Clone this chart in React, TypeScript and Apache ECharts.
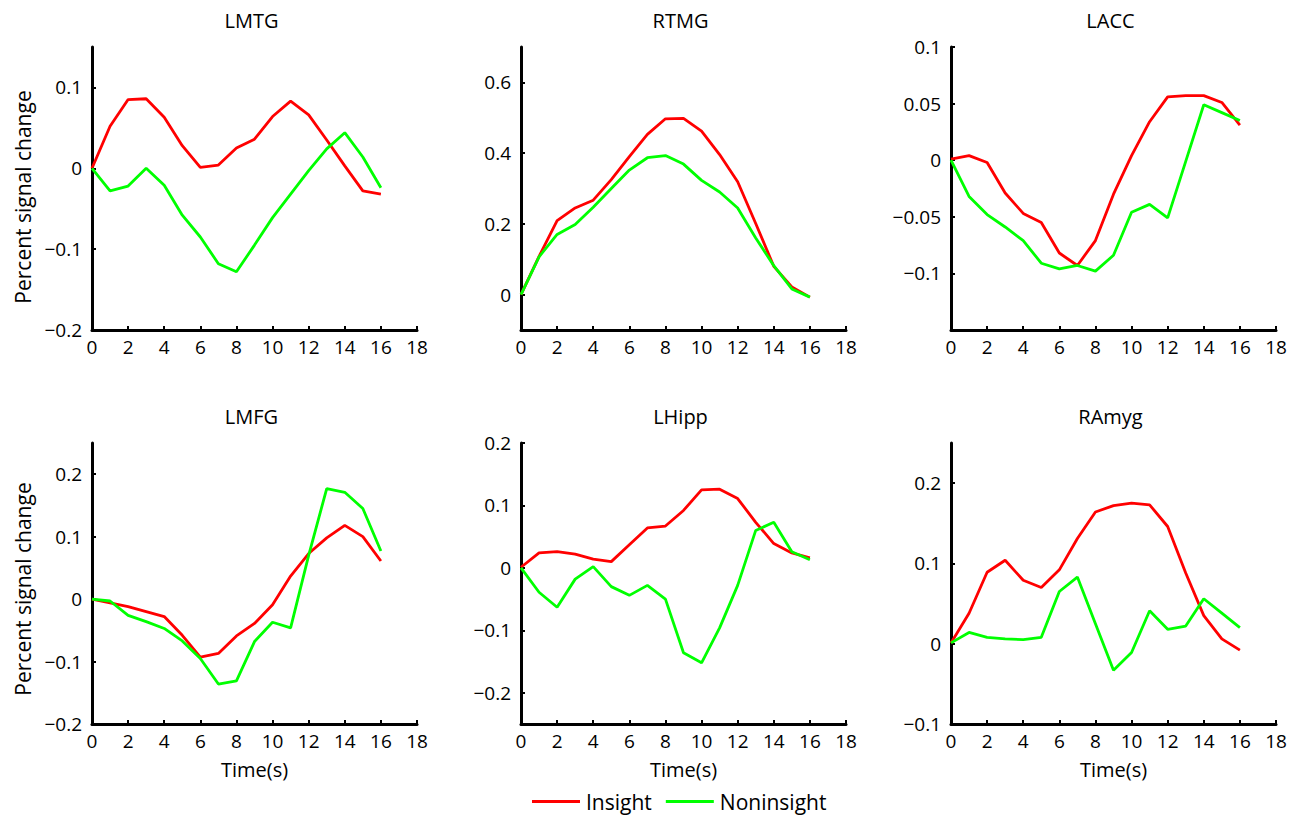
import React, { useEffect, useRef } from 'react';
import * as echarts from 'echarts';

const time = [0, 1, 2, 3, 4, 5, 6, 7, 8, 9, 10, 11, 12, 13, 14, 15, 16];
const xTickLabels = [0, 2, 4, 6, 8, 10, 12, 14, 16, 18];
const panelTitles = ['LMTG', 'RTMG', 'LACC', 'LMFG', 'LHipp', 'RAmyg'];

const lmtgInsight = [0, 0.052, 0.085, 0.086, 0.063, 0.028, 0.001, 0.004, 0.025, 0.036, 0.064, 0.083, 0.066, 0.035, 0.003, -0.028, -0.032];
const lmtgNoninsight = [0, -0.028, -0.022, 0, -0.021, -0.058, -0.085, -0.118, -0.128, -0.095, -0.061, -0.032, -0.003, 0.024, 0.044, 0.014, -0.024];

const rtmgInsight = [0, 0.108, 0.209, 0.245, 0.267, 0.325, 0.39, 0.453, 0.497, 0.498, 0.462, 0.396, 0.319, 0.201, 0.08, 0.022, -0.007];
const rtmgNoninsight = [0, 0.107, 0.17, 0.198, 0.247, 0.3, 0.352, 0.387, 0.393, 0.369, 0.323, 0.29, 0.245, 0.16, 0.082, 0.016, -0.007];

const laccInsight = [0.001, 0.004, -0.002, -0.029, -0.047, -0.055, -0.082, -0.093, -0.071, -0.03, 0.004, 0.034, 0.056, 0.057, 0.057, 0.051, 0.031];
const laccNoninsight = [0, -0.032, -0.048, -0.059, -0.071, -0.091, -0.096, -0.093, -0.098, -0.084, -0.046, -0.039, -0.051, -0.001, 0.049, 0.042, 0.035];

const lmfgInsight = [0, -0.006, -0.012, -0.02, -0.028, -0.058, -0.093, -0.087, -0.059, -0.039, -0.009, 0.037, 0.073, 0.098, 0.118, 0.1, 0.061];
const lmfgNoninsight = [0, -0.003, -0.026, -0.036, -0.047, -0.067, -0.095, -0.136, -0.131, -0.068, -0.037, -0.046, 0.07, 0.177, 0.171, 0.145, 0.077];

const lhippInsight = [0.001, 0.024, 0.026, 0.022, 0.014, 0.01, 0.037, 0.064, 0.067, 0.092, 0.125, 0.126, 0.111, 0.073, 0.039, 0.024, 0.016];
const lhippNoninsight = [0, -0.039, -0.063, -0.018, 0.002, -0.03, -0.044, -0.028, -0.05, -0.136, -0.152, -0.096, -0.028, 0.06, 0.073, 0.026, 0.013];

const ramygInsight = [0.001, 0.038, 0.089, 0.104, 0.079, 0.07, 0.092, 0.131, 0.164, 0.172, 0.175, 0.173, 0.146, 0.088, 0.035, 0.006, -0.008];
const ramygNoninsight = [0.001, 0.014, 0.008, 0.006, 0.005, 0.008, 0.065, 0.083, 0.025, -0.033, -0.011, 0.041, 0.018, 0.022, 0.056, 0.038, 0.02];

const insightData = [lmtgInsight, rtmgInsight, laccInsight, lmfgInsight, lhippInsight, ramygInsight];
const noninsightData = [lmtgNoninsight, rtmgNoninsight, laccNoninsight, lmfgNoninsight, lhippNoninsight, ramygNoninsight];

const yMins = [-0.2, -0.1, -0.15, -0.2, -0.25, -0.1];
const yMaxs = [0.15, 0.7, 0.1, 0.25, 0.2, 0.25];
const yTickLabels = [
  [-0.2, -0.1, 0, 0.1],
  [0, 0.2, 0.4, 0.6],
  [-0.1, -0.05, 0, 0.05, 0.1],
  [-0.2, -0.1, 0, 0.1, 0.2],
  [-0.2, -0.1, 0, 0.1, 0.2],
  [-0.1, 0, 0.1, 0.2],
];

const FONT = "'Open Sans', sans-serif";
const colLefts = [92, 521, 951];
const rowTops = [47, 443];
const rowHeights = [283, 281];
const gridWidth = 325;
const titleYs = [20.5, 416];
const yNameCenters = [197, 589];

const fmt = (v: number) => String(v).replace('-', '\u2212');

export default function App() {
  const ref = useRef<HTMLDivElement>(null);

  useEffect(() => {
    if (!ref.current) return;
    const chart = echarts.init(ref.current, undefined, { renderer: 'svg' });

    const grids: any[] = [];
    const xAxes: any[] = [];
    const yAxes: any[] = [];
    const series: any[] = [];
    const graphics: any[] = [];

    for (let i = 0; i < 6; i++) {
      const row = Math.floor(i / 3);
      const col = i % 3;
      grids.push({
        left: colLefts[col],
        top: rowTops[row],
        width: gridWidth,
        height: rowHeights[row],
        containLabel: false,
      });
      xAxes.push({
        type: 'value',
        gridIndex: i,
        min: 0,
        max: 18,
        interval: 2,
        name: row === 1 ? 'Time(s)' : '',
        nameLocation: 'middle',
        nameGap: 35,
        nameTextStyle: { fontFamily: FONT, fontSize: 20, color: '#000' },
        axisLine: { onZero: false, lineStyle: { color: '#000', width: 3 } },
        axisTick: { inside: true, length: 4, lineStyle: { color: '#000', width: 2 } },
        axisLabel: { customValues: xTickLabels, formatter: fmt, fontFamily: FONT, fontSize: 19, color: '#000', margin: 7 },
        splitLine: { show: false },
      });
      yAxes.push({
        type: 'value',
        gridIndex: i,
        min: yMins[i],
        max: yMaxs[i],
        axisLine: { show: true, onZero: false, lineStyle: { color: '#000', width: 3 } },
        axisTick: { show: true, inside: true, length: 4, customValues: yTickLabels[i], lineStyle: { color: '#000', width: 2 } },
        axisLabel: { customValues: yTickLabels[i], formatter: fmt, fontFamily: FONT, fontSize: 19, color: '#000', margin: 10 },
        splitLine: { show: false },
      });
      series.push({
        name: 'Insight',
        type: 'line',
        xAxisIndex: i,
        yAxisIndex: i,
        symbol: 'none',
        lineStyle: { color: '#ff0000', width: 2.8 },
        itemStyle: { color: '#ff0000' },
        data: time.map((t, k) => [t, insightData[i][k]]),
      });
      series.push({
        name: 'Noninsight',
        type: 'line',
        xAxisIndex: i,
        yAxisIndex: i,
        symbol: 'none',
        lineStyle: { color: '#00ff00', width: 2.8 },
        itemStyle: { color: '#00ff00' },
        data: time.map((t, k) => [t, noninsightData[i][k]]),
      });
      graphics.push({
        type: 'text',
        x: colLefts[col] + gridWidth / 2 - 3,
        y: titleYs[row],
        style: {
          text: panelTitles[i],
          fill: '#000',
          font: `20px ${FONT}`,
          textAlign: 'center',
          textVerticalAlign: 'middle',
        },
      });
      if (col === 0) {
        graphics.push({
          type: 'text',
          x: 22.5,
          y: yNameCenters[row],
          rotation: Math.PI / 2,
          style: {
            text: 'Percent signal change',
            fill: '#000',
            font: `21px ${FONT}`,
            textAlign: 'center',
            textVerticalAlign: 'middle',
          },
        });
      }
    }

    chart.setOption({
      animation: false,
      backgroundColor: '#fff',
      textStyle: { fontFamily: FONT },
      grid: grids,
      xAxis: xAxes,
      yAxis: yAxes,
      series,
      graphic: graphics,
      legend: {
        data: ['Insight', 'Noninsight'],
        left: 532,
        top: 791,
        padding: 0,
        icon: 'rect',
        itemWidth: 48,
        itemHeight: 3,
        itemGap: 14,
        textStyle: { fontFamily: FONT, fontSize: 21, color: '#000', padding: [0, 0, 0, 1] },
      },
    });

    return () => {
      chart.dispose();
    };
  }, []);

  return (
    <div
      ref={ref}
      style={{ position: 'fixed', left: 0, top: 0, width: 1296, height: 816, background: '#fff' }}
    />
  );
}
